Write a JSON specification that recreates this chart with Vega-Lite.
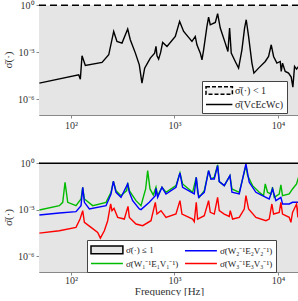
{
  "$schema": "https://vega.github.io/schema/vega-lite/v6.json",
  "padding": {"left": 2, "top": 0, "right": 1, "bottom": 0},
  "background": "white",
  "config": {
    "view": {"stroke": null},
    "font": "Liberation Serif",
    "axis": {"labelFont": "Liberation Serif", "labelFontSize": 10, "labelColor": "#333", "titleFont": "Liberation Serif", "titleFontSize": 11, "titleFontWeight": "normal", "titleColor": "#333", "domainColor": "#888", "tickColor": "#888", "tickSize": 3, "grid": false},
    "legend": {"labelFont": "Liberation Serif", "labelFontSize": 10, "labelColor": "#222", "strokeColor": "#444", "fillColor": "white", "padding": 3, "cornerRadius": 0, "symbolSize": 121, "symbolStrokeWidth": 1.5, "labelOffset": 17, "rowPadding": 0, "labelLimit": 300, "title": null},
    "concat": {"spacing": 28}
  },
  "datasets": {
    "region": [{"f1": 10, "f2": 100000, "lo": 1e-9, "hi": 1}],
    "top": [
      {"f": 49.4, "s": 1.08e-5, "series": "Vc"}, {"f": 118.6, "s": 3.66e-5, "series": "Vc"}, {"f": 123, "s": 1.94e-5, "series": "Vc"}, {"f": 127.7, "s": 5.98e-4, "series": "Vc"}, {"f": 137.5, "s": 1.44e-4, "series": "Vc"}, {"f": 199.4, "s": 2.24e-4, "series": "Vc"}, {"f": 231.4, "s": 6.92e-4, "series": "Vc"}, {"f": 258.5, "s": 0.0214, "series": "Vc"}, {"f": 278, "s": 0.00491, "series": "Vc"}, {"f": 311, "s": 0.00385, "series": "Vc"}, {"f": 353, "s": 0.0301, "series": "Vc"}, {"f": 374, "s": 0.00628, "series": "Vc"}, {"f": 419, "s": 8.85e-4, "series": "Vc"}, {"f": 457, "s": 1.59e-4, "series": "Vc"}, {"f": 485, "s": 1.08e-5, "series": "Vc"}, {"f": 515, "s": 9.76e-5, "series": "Vc"}, {"f": 584, "s": 4.24e-4, "series": "Vc"}, {"f": 643, "s": 8.85e-4, "series": "Vc"}, {"f": 663, "s": 0.00236, "series": "Vc"}, {"f": 678, "s": 5.98e-4, "series": "Vc"}, {"f": 703, "s": 3.66e-4, "series": "Vc"}, {"f": 735, "s": 9.76e-4, "series": "Vc"}, {"f": 769, "s": 0.00424, "series": "Vc"}, {"f": 847, "s": 0.00236, "series": "Vc"}, {"f": 1019, "s": 0.01025, "series": "Vc"}, {"f": 1122, "s": 0.0929, "series": "Vc"}, {"f": 1227, "s": 0.0214, "series": "Vc"}, {"f": 1476, "s": 0.00491, "series": "Vc"}, {"f": 1589, "s": 0.01025, "series": "Vc"}, {"f": 1649, "s": 0.00301, "series": "Vc"}, {"f": 1778, "s": 8.85e-4, "series": "Vc"}, {"f": 1845, "s": 3.32e-4, "series": "Vc"}, {"f": 1914, "s": 0.00144, "series": "Vc"}, {"f": 2061, "s": 0.0446, "series": "Vc"}, {"f": 2138, "s": 0.176, "series": "Vc"}, {"f": 2218, "s": 0.0569, "series": "Vc"}, {"f": 2483, "s": 0.0802, "series": "Vc"}, {"f": 2614, "s": 0.287, "series": "Vc"}, {"f": 2773, "s": 0.0349, "series": "Vc"}, {"f": 3099, "s": 0.00385, "series": "Vc"}, {"f": 3288, "s": 0.00113, "series": "Vc"}, {"f": 3412, "s": 0.0349, "series": "Vc"}, {"f": 3540, "s": 8.85e-4, "series": "Vc"}, {"f": 3870, "s": 2.6e-4, "series": "Vc"}, {"f": 4169, "s": 9.76e-5, "series": "Vc"}, {"f": 4489, "s": 0.00144, "series": "Vc"}, {"f": 4762, "s": 0.0349, "series": "Vc"}, {"f": 4942, "s": 0.119, "series": "Vc"}, {"f": 5207, "s": 0.01025, "series": "Vc"}, {"f": 5610, "s": 2.04e-4, "series": "Vc"}, {"f": 5865, "s": 4.68e-5, "series": "Vc"}, {"f": 6505, "s": 9.76e-5, "series": "Vc"}, {"f": 7547, "s": 2.6e-4, "series": "Vc"}, {"f": 8127, "s": 5.42e-4, "series": "Vc"}, {"f": 8625, "s": 0.00301, "series": "Vc"}, {"f": 9087, "s": 5.42e-4, "series": "Vc"}, {"f": 9779, "s": 2.04e-4, "series": "Vc"}, {"f": 10540, "s": 2.6e-4, "series": "Vc"}, {"f": 10770, "s": 5.98e-5, "series": "Vc"}, {"f": 11090, "s": 2.04e-4, "series": "Vc"}, {"f": 11770, "s": 5.98e-5, "series": "Vc"}, {"f": 12680, "s": 4.68e-5, "series": "Vc"}, {"f": 13450, "s": 2.6e-5, "series": "Vc"}, {"f": 13960, "s": 5.98e-6, "series": "Vc"}, {"f": 14490, "s": 1.25e-4, "series": "Vc"}, {"f": 15150, "s": 8.43e-5, "series": "Vc"}, {"f": 15850, "s": 1.25e-4, "series": "Vc"}
    ],
    "bottom": [
      {"f": 49.4, "s": 0.00097, "series": "W1"}, {"f": 77.1, "s": 0.00186, "series": "W1"}, {"f": 83.1, "s": 0.00305, "series": "W1"}, {"f": 87.5, "s": 0.0594, "series": "W1"}, {"f": 92.9, "s": 0.00305, "series": "W1"}, {"f": 111.7, "s": 0.00186, "series": "W1"}, {"f": 124.9, "s": 0.005, "series": "W1"}, {"f": 129.7, "s": 0.0283, "series": "W1"}, {"f": 134.6, "s": 0.005, "series": "W1"}, {"f": 161.9, "s": 0.00186, "series": "W1"}, {"f": 217.9, "s": 0.00305, "series": "W1"}, {"f": 243.5, "s": 0.01346, "series": "W1"}, {"f": 256.5, "s": 0.069, "series": "W1"}, {"f": 272.2, "s": 0.01725, "series": "W1"}, {"f": 304.2, "s": 0.0082, "series": "W1"}, {"f": 345.1, "s": 0.01725, "series": "W1"}, {"f": 352.9, "s": 0.0539, "series": "W1"}, {"f": 366.2, "s": 0.01725, "series": "W1"}, {"f": 424.6, "s": 0.0039, "series": "W1"}, {"f": 474.6, "s": 0.00186, "series": "W1"}, {"f": 526.5, "s": 0.0221, "series": "W1"}, {"f": 550.6, "s": 0.336, "series": "W1"}, {"f": 579.9, "s": 0.0221, "series": "W1"}, {"f": 624.5, "s": 0.00906, "series": "W1"}, {"f": 662.7, "s": 0.0283, "series": "W1"}, {"f": 687.7, "s": 0.0082, "series": "W1"}, {"f": 757.2, "s": 0.0283, "series": "W1"}, {"f": 827.9, "s": 0.01346, "series": "W1"}, {"f": 1034, "s": 0.0362, "series": "W1"}, {"f": 1130, "s": 0.238, "series": "W1"}, {"f": 1199, "s": 0.0464, "series": "W1"}, {"f": 1498, "s": 0.01346, "series": "W1"}, {"f": 1625, "s": 0.125, "series": "W1"}, {"f": 1674, "s": 0.01346, "series": "W1"}, {"f": 1738, "s": 0.0064, "series": "W1"}, {"f": 1942, "s": 0.01725, "series": "W1"}, {"f": 2138, "s": 0.336, "series": "W1"}, {"f": 2253, "s": 0.0976, "series": "W1"}, {"f": 2426, "s": 0.125, "series": "W1"}, {"f": 2613, "s": 0.78, "series": "W1"}, {"f": 2711, "s": 0.0657, "series": "W1"}, {"f": 3030, "s": 0.0362, "series": "W1"}, {"f": 3438, "s": 0.16, "series": "W1"}, {"f": 3595, "s": 0.0221, "series": "W1"}, {"f": 4230, "s": 0.01346, "series": "W1"}, {"f": 4909, "s": 0.707, "series": "W1"}, {"f": 5094, "s": 0.16, "series": "W1"}, {"f": 5691, "s": 0.0362, "series": "W1"}, {"f": 6601, "s": 0.01346, "series": "W1"}, {"f": 7270, "s": 0.0082, "series": "W1"}, {"f": 7545, "s": 0.0464, "series": "W1"}, {"f": 7947, "s": 0.01346, "series": "W1"}, {"f": 8557, "s": 0.0105, "series": "W1"}, {"f": 8880, "s": 0.0283, "series": "W1"}, {"f": 9218, "s": 0.0064, "series": "W1"}, {"f": 10300, "s": 0.0105, "series": "W1"}, {"f": 10690, "s": 0.04, "series": "W1"}, {"f": 11090, "s": 0.0082, "series": "W1"}, {"f": 12870, "s": 0.0105, "series": "W1"}, {"f": 13860, "s": 0.0221, "series": "W1"}, {"f": 15150, "s": 0.0464, "series": "W1"}, {"f": 15840, "s": 0.125, "series": "W1"},
      {"f": 49.4, "s": 0.000464, "series": "W2"}, {"f": 77.1, "s": 0.000625, "series": "W2"}, {"f": 111.7, "s": 0.000762, "series": "W2"}, {"f": 124.9, "s": 0.00186, "series": "W2"}, {"f": 129.7, "s": 0.0283, "series": "W2"}, {"f": 134.6, "s": 0.00305, "series": "W2"}, {"f": 150.4, "s": 0.00113, "series": "W2"}, {"f": 217.9, "s": 0.00186, "series": "W2"}, {"f": 243.5, "s": 0.0105, "series": "W2"}, {"f": 256.5, "s": 0.069, "series": "W2"}, {"f": 272.2, "s": 0.01346, "series": "W2"}, {"f": 304.2, "s": 0.0064, "series": "W2"}, {"f": 352.9, "s": 0.0464, "series": "W2"}, {"f": 366.2, "s": 0.01346, "series": "W2"}, {"f": 394.3, "s": 0.0039, "series": "W2"}, {"f": 457.3, "s": 0.00113, "series": "W2"}, {"f": 474.6, "s": 0.00103, "series": "W2"}, {"f": 571.3, "s": 0.00305, "series": "W2"}, {"f": 652.9, "s": 0.0082, "series": "W2"}, {"f": 662.7, "s": 0.0244, "series": "W2"}, {"f": 687.7, "s": 0.0064, "series": "W2"}, {"f": 757.2, "s": 0.0283, "series": "W2"}, {"f": 827.9, "s": 0.0105, "series": "W2"}, {"f": 1034, "s": 0.0283, "series": "W2"}, {"f": 1130, "s": 0.238, "series": "W2"}, {"f": 1199, "s": 0.0283, "series": "W2"}, {"f": 1554, "s": 0.0105, "series": "W2"}, {"f": 1625, "s": 0.125, "series": "W2"}, {"f": 1712, "s": 0.0064, "series": "W2"}, {"f": 1942, "s": 0.01346, "series": "W2"}, {"f": 2138, "s": 0.336, "series": "W2"}, {"f": 2253, "s": 0.0976, "series": "W2"}, {"f": 2426, "s": 0.0976, "series": "W2"}, {"f": 2613, "s": 0.707, "series": "W2"}, {"f": 2711, "s": 0.0657, "series": "W2"}, {"f": 3030, "s": 0.0362, "series": "W2"}, {"f": 3438, "s": 0.16, "series": "W2"}, {"f": 3595, "s": 0.01346, "series": "W2"}, {"f": 4230, "s": 0.0105, "series": "W2"}, {"f": 4909, "s": 0.906, "series": "W2"}, {"f": 5284, "s": 0.0594, "series": "W2"}, {"f": 6129, "s": 0.01346, "series": "W2"}, {"f": 7656, "s": 0.0064, "series": "W2"}, {"f": 8246, "s": 0.005, "series": "W2"}, {"f": 8880, "s": 0.0221, "series": "W2"}, {"f": 9566, "s": 0.0039, "series": "W2"}, {"f": 10690, "s": 0.0064, "series": "W2"}, {"f": 11090, "s": 0.00238, "series": "W2"}, {"f": 12870, "s": 0.00238, "series": "W2"}, {"f": 13860, "s": 0.00305, "series": "W2"}, {"f": 15900, "s": 0.00305, "series": "W2"},
      {"f": 49.4, "s": 3.2e-5, "series": "W3"}, {"f": 77.1, "s": 4.53e-5, "series": "W3"}, {"f": 111.7, "s": 7.43e-5, "series": "W3"}, {"f": 122.2, "s": 0.000256, "series": "W3"}, {"f": 129.7, "s": 0.000884, "series": "W3"}, {"f": 134.6, "s": 0.000156, "series": "W3"}, {"f": 156.1, "s": 7.43e-5, "series": "W3"}, {"f": 181, "s": 3.54e-5, "series": "W3"}, {"f": 192.1, "s": 1.52e-5, "series": "W3"}, {"f": 209.9, "s": 4.53e-5, "series": "W3"}, {"f": 226.1, "s": 0.0002, "series": "W3"}, {"f": 241.6, "s": 0.00238, "series": "W3"}, {"f": 248.9, "s": 0.000884, "series": "W3"}, {"f": 260.3, "s": 0.00125, "series": "W3"}, {"f": 282.4, "s": 0.000328, "series": "W3"}, {"f": 327.6, "s": 0.000256, "series": "W3"}, {"f": 355.5, "s": 0.00168, "series": "W3"}, {"f": 366.2, "s": 0.000328, "series": "W3"}, {"f": 424.6, "s": 0.000122, "series": "W3"}, {"f": 492.6, "s": 9.52e-5, "series": "W3"}, {"f": 592.9, "s": 0.0002, "series": "W3"}, {"f": 652.9, "s": 0.00305, "series": "W3"}, {"f": 677.6, "s": 0.000538, "series": "W3"}, {"f": 740.7, "s": 0.000884, "series": "W3"}, {"f": 827.9, "s": 0.000328, "series": "W3"}, {"f": 1034, "s": 0.000538, "series": "W3"}, {"f": 1130, "s": 0.0039, "series": "W3"}, {"f": 1182, "s": 0.000538, "series": "W3"}, {"f": 1498, "s": 0.000256, "series": "W3"}, {"f": 1554, "s": 0.000172, "series": "W3"}, {"f": 1625, "s": 0.00305, "series": "W3"}, {"f": 1674, "s": 0.000256, "series": "W3"}, {"f": 1942, "s": 0.00042, "series": "W3"}, {"f": 2138, "s": 0.0039, "series": "W3"}, {"f": 2219, "s": 0.00069, "series": "W3"}, {"f": 2426, "s": 0.000538, "series": "W3"}, {"f": 2613, "s": 0.0064, "series": "W3"}, {"f": 2711, "s": 0.000884, "series": "W3"}, {"f": 3030, "s": 0.000538, "series": "W3"}, {"f": 3388, "s": 0.000381, "series": "W3"}, {"f": 3464, "s": 0.000884, "series": "W3"}, {"f": 3648, "s": 0.000256, "series": "W3"}, {"f": 4230, "s": 0.000328, "series": "W3"}, {"f": 4730, "s": 0.00113, "series": "W3"}, {"f": 4909, "s": 0.0082, "series": "W3"}, {"f": 5208, "s": 0.00113, "series": "W3"}, {"f": 6129, "s": 0.000328, "series": "W3"}, {"f": 7656, "s": 0.0002, "series": "W3"}, {"f": 8246, "s": 0.000256, "series": "W3"}, {"f": 8750, "s": 0.00238, "series": "W3"}, {"f": 9082, "s": 0.000538, "series": "W3"}, {"f": 10300, "s": 0.00069, "series": "W3"}, {"f": 10690, "s": 0.00305, "series": "W3"}, {"f": 11090, "s": 0.000538, "series": "W3"}, {"f": 12870, "s": 0.000328, "series": "W3"}, {"f": 13360, "s": 0.000156, "series": "W3"}, {"f": 13860, "s": 0.00069, "series": "W3"}, {"f": 15150, "s": 0.00238, "series": "W3"}, {"f": 15610, "s": 0.000328, "series": "W3"}, {"f": 15900, "s": 0.00238, "series": "W3"}
    ]
  },
  "resolve": {"scale": {"color": "independent"}, "legend": {"color": "independent"}},
  "vconcat": [
    {
      "width": 260, "height": 111,
      "layer": [
        {
          "data": {"name": "region"},
          "mark": {"type": "rect", "color": "#e5e5e5", "clip": true},
          "encoding": {
            "x": {"field": "f1", "type": "quantitative", "scale": {"type": "log", "domain": [49, 16000], "nice": false}, "axis": {"values": [100, 1000, 10000], "labelExpr": "datum.value > 5000 ? '10⁴' : datum.value > 500 ? '10³' : '10²'", "title": null, "labelPadding": 2}},
            "x2": {"field": "f2"},
            "y": {"field": "lo", "type": "quantitative", "scale": {"type": "log", "domain": [1e-7, 1.2], "nice": false}, "axis": {"values": [1e-6, 0.001, 1], "labelExpr": "datum.value > 0.5 ? '10⁰' : datum.value > 0.00005 ? '10⁻³' : '10⁻⁶'", "title": "σ̄(·)", "titlePadding": 4}},
            "y2": {"field": "hi"}
          }
        },
        {
          "data": {"name": "top"},
          "mark": {"type": "line", "strokeWidth": 1.4, "clip": true},
          "encoding": {
            "x": {"field": "f", "type": "quantitative", "scale": {"type": "log", "domain": [49, 16000], "nice": false}},
            "y": {"field": "s", "type": "quantitative", "scale": {"type": "log", "domain": [1e-7, 1.2], "nice": false}},
            "color": {"field": "series", "type": "nominal", "scale": {"domain": ["lim", "Vc"], "range": ["black", "black"]},
              "legend": {"orient": "none", "legendX": 163, "legendY": 77, "labelExpr": "datum.value === 'lim' ? 'σ̄(·) < 1' : 'σ̄(VcEcWc)'",
                "encode": {"symbols": {"update": {
                  "shape": {"signal": "datum.index === 0 ? 'M-1,-0.7H3.8V0.7H-1Z' : 'M-1,0H3.8'"},
                  "fill": {"signal": "datum.index === 0 ? '#f0f0f0' : 'transparent'"},
                  "stroke": {"value": "black"},
                  "strokeDash": {"signal": "datum.index === 0 ? [4, 2] : [1, 0]"},
                  "strokeWidth": {"value": 1.5},
                  "opacity": {"value": 1}
                }}}}}
          }
        },
        {
          "data": {"values": [{}]},
          "mark": {"type": "rule", "strokeDash": [7, 4], "strokeWidth": 1.6, "color": "black"},
          "encoding": {"y": {"datum": 1, "type": "quantitative", "scale": {"type": "log", "domain": [1e-7, 1.2], "nice": false}}}
        }
      ]
    },
    {
      "width": 260, "height": 110,
      "layer": [
        {
          "data": {"name": "region"},
          "mark": {"type": "rect", "color": "#e5e5e5", "clip": true},
          "encoding": {
            "x": {"field": "f1", "type": "quantitative", "scale": {"type": "log", "domain": [49, 16000], "nice": false}, "axis": {"values": [100, 1000, 10000], "labelExpr": "datum.value > 5000 ? '10⁴' : datum.value > 500 ? '10³' : '10²'", "title": "Frequency [Hz]", "labelPadding": 0, "titlePadding": 0}},
            "x2": {"field": "f2"},
            "y": {"field": "lo", "type": "quantitative", "scale": {"type": "log", "domain": [1e-7, 1.2], "nice": false}, "axis": {"values": [1e-6, 0.001, 1], "labelExpr": "datum.value > 0.5 ? '10⁰' : datum.value > 0.00005 ? '10⁻³' : '10⁻⁶'", "title": "σ̄(·)", "titlePadding": 4}},
            "y2": {"field": "hi"}
          }
        },
        {
          "data": {"name": "bottom"},
          "mark": {"type": "line", "strokeWidth": 1.4, "clip": true},
          "encoding": {
            "x": {"field": "f", "type": "quantitative", "scale": {"type": "log", "domain": [49, 16000], "nice": false}},
            "y": {"field": "s", "type": "quantitative", "scale": {"type": "log", "domain": [1e-7, 1.2], "nice": false}},
            "color": {"field": "series", "type": "nominal", "scale": {"domain": ["lim", "W1", "W2", "W3"], "range": ["black", "#00bb00", "#0000ff", "#ff0000"]},
              "legend": {"orient": "none", "legendX": 48, "legendY": 78, "columns": 2, "columnPadding": 3, "labelFontSize": 9,
                "labelExpr": "datum.value === 'lim' ? 'σ̄(·) ≤ 1' : datum.value === 'W1' ? 'σ̄(W₁⁻¹E₁V₁⁻¹)' : datum.value === 'W2' ? 'σ̄(W₂⁻¹E₂V₂⁻¹)' : 'σ̄(W₃⁻¹E₃V₃⁻¹)'",
                "labelOffset": 23,
                "encode": {"symbols": {"update": {
                  "shape": {"signal": "datum.index === 0 ? 'M-1,-0.7H4.8V0.7H-1Z' : 'M-1,0H4.8'"},
                  "fill": {"signal": "datum.index === 0 ? '#e5e5e5' : 'transparent'"},
                  "stroke": {"signal": "['black', '#00bb00', '#0000ff', '#ff0000'][datum.index]"},
                  "strokeWidth": {"value": 1.5},
                  "opacity": {"value": 1}
                }}}}}
          }
        },
        {
          "data": {"values": [{}]},
          "mark": {"type": "rule", "strokeWidth": 1.6, "color": "black"},
          "encoding": {"y": {"datum": 1, "type": "quantitative", "scale": {"type": "log", "domain": [1e-7, 1.2], "nice": false}}}
        }
      ]
    }
  ]
}
